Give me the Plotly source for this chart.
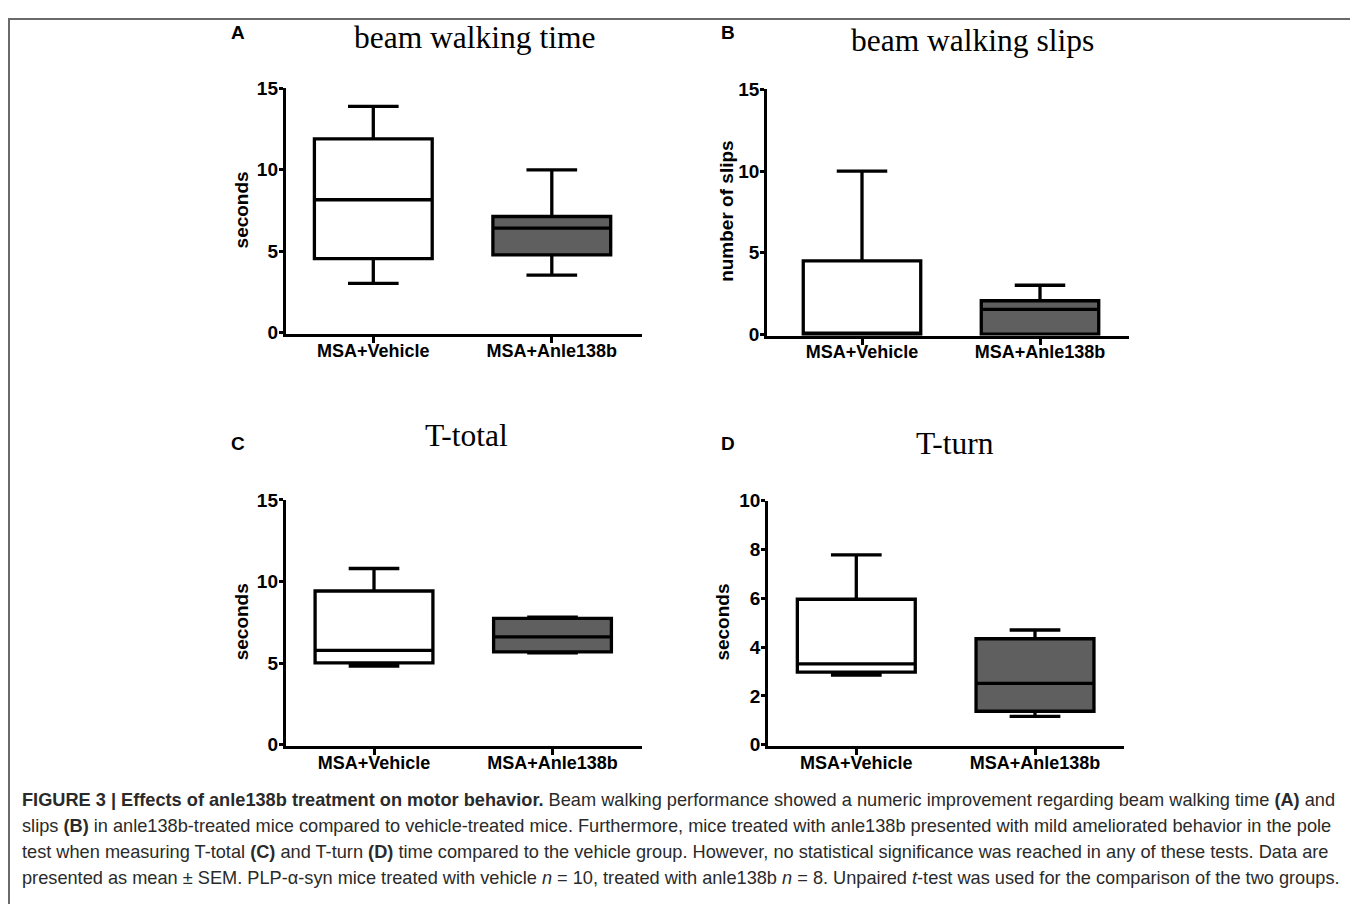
import plotly.graph_objects as go

# Page has an 8px body margin; the figure is sized to fit inside it.
PAGE_W, PAGE_H = 1358, 912
OFF = 8
W, H = PAGE_W - 2 * OFF, PAGE_H - 2 * OFF
# vertical mapping of the photographed page (measured): shot_y = V0 + VS * page_y
V0, VS = 10.9, 0.976

categories = ["MSA+Vehicle", "MSA+Anle138b"]
fills = ["#ffffff", "#5f5f5f"]

# Panel A: beam walking time (seconds)
A_low = [3.02, 3.53]
A_q1 = [4.54, 4.77]
A_med = [8.16, 6.41]
A_q3 = [11.9, 7.13]
A_high = [13.9, 10.0]

# Panel B: beam walking slips (number of slips)
B_low = [0.0, 0.0]
B_q1 = [0.0, 0.0]
B_med = [0.0, 1.52]
B_q3 = [4.5, 2.05]
B_high = [10.0, 3.0]

# Panel C: T-total (seconds)
C_low = [4.81, 5.63]
C_q1 = [5.02, 5.69]
C_med = [5.78, 6.61]
C_q3 = [9.42, 7.74]
C_high = [10.8, 7.82]

# Panel D: T-turn (seconds)
D_low = [2.85, 1.16]
D_q1 = [2.97, 1.37]
D_med = [3.31, 2.51]
D_q3 = [5.96, 4.34]
D_high = [7.78, 4.70]

A_ticks = [0, 5, 10, 15]
B_ticks = [0, 5, 10, 15]
C_ticks = [0, 5, 10, 15]
D_ticks = [0, 2, 4, 6, 8, 10]


def px(x):
    return (x - OFF) / W


def py(y):
    page_y = (y - V0) / VS
    return 1 - (page_y - OFF) / H


LW = 3.0
HALF = LW / 2

# target geometry: y-axis x, first-category centre, category spacing, right end,
# y of value 0, y of top value
panels = [
    ("", (A_low, A_q1, A_med, A_q3, A_high), 284.3, 373.3, 178.5, 641.7, 332.3, 89.0, 15, A_ticks),
    ("2", (B_low, B_q1, B_med, B_q3, B_high), 765.7, 862.0, 178.0, 1129.0, 334.0, 90.0, 15, B_ticks),
    ("3", (C_low, C_q1, C_med, C_q3, C_high), 284.3, 374.0, 178.5, 641.7, 743.3, 499.3, 15, C_ticks),
    ("4", (D_low, D_q1, D_med, D_q3, D_high), 766.7, 856.3, 178.7, 1124.0, 743.3, 500.0, 10, D_ticks),
]

fig = go.Figure()
tick_font = dict(family="Liberation Sans, Arial, sans-serif", size=19, color="#000000", weight="bold")
cat_font = dict(family="Liberation Sans, Arial, sans-serif", size=18, color="#000000", weight="bold")

layout = {}
for name, (lo, q1, med, q3, hi), ax_x, c0, sep, x_end, y0, ytop, top, ticks in panels:
    for i, cat in enumerate(categories):
        fig.add_trace(go.Box(
            x=[cat], lowerfence=[lo[i]], q1=[q1[i]], median=[med[i]], q3=[q3[i]], upperfence=[hi[i]],
            fillcolor=fills[i], line=dict(color="#000000", width=3.3),
            width=0.66, whiskerwidth=0.43, boxpoints=False, showlegend=False,
            xaxis="x" + name, yaxis="y" + name, hoverinfo="skip",
        ))
    ppu = (y0 - ytop) / top
    dom_left = ax_x + HALF
    dom_bottom = y0 + HALF
    xr = [(dom_left - c0) / sep, (x_end - c0) / sep]
    yr = [-(HALF / ppu), top]
    layout["xaxis" + name] = dict(
        domain=[px(dom_left), px(x_end)], anchor="y" + name, type="category",
        categoryorder="array", categoryarray=categories, range=xr,
        showline=True, linecolor="#000000", linewidth=LW, showgrid=False, zeroline=False,
        ticks="outside", ticklen=6, tickwidth=3, tickcolor="#000000", tickfont=cat_font,
        ticklabelstandoff=-8, fixedrange=True,
    )
    layout["yaxis" + name] = dict(
        domain=[py(dom_bottom), py(ytop)], anchor="x" + name, range=yr,
        tickvals=ticks, showline=True, linecolor="#000000", linewidth=LW,
        showgrid=False, zeroline=False, ticks="outside", ticklen=4, tickwidth=3,
        tickcolor="#000000", tickfont=tick_font, ticklabelstandoff=-3, fixedrange=True,
    )

annotations = []
letter_font = dict(family="Liberation Sans, Arial, sans-serif", size=19, color="#000000", weight="bold")
for txt, x, y in [("A", 238, 33), ("B", 728, 33), ("C", 238, 443), ("D", 728, 443)]:
    annotations.append(dict(text=txt, x=px(x), y=py(y), xref="paper", yref="paper",
                            xanchor="center", yanchor="middle", showarrow=False, font=letter_font))

title_font = dict(family="Liberation Serif, Times New Roman, serif", size=31.5, color="#000000")
for txt, x, y in [("beam walking time", 474, 38), ("beam walking slips", 972, 41),
                  ("T-total", 466, 435), ("T-turn", 955, 443)]:
    annotations.append(dict(text=txt, x=px(x), y=py(y), xref="paper", yref="paper",
                            xanchor="center", yanchor="middle", showarrow=False, font=title_font))

ytitle_font = dict(family="Liberation Sans, Arial, sans-serif", size=19, color="#000000", weight="bold")
for txt, x, y in [("seconds", 241, 210.6), ("number of slips", 727, 212),
                  ("seconds", 241, 621.3), ("seconds", 723, 621.6)]:
    annotations.append(dict(text=txt, x=px(x), y=py(y), xref="paper", yref="paper", textangle=-90,
                            xanchor="center", yanchor="middle", showarrow=False, font=ytitle_font))

caption_lines = [
    "<b>FIGURE 3 | Effects of anle138b treatment on motor behavior.</b> Beam walking performance showed a numeric improvement regarding beam walking time <b>(A)</b> and",
    "slips <b>(B)</b> in anle138b-treated mice compared to vehicle-treated mice. Furthermore, mice treated with anle138b presented with mild ameliorated behavior in the pole",
    "test when measuring T-total <b>(C)</b> and T-turn <b>(D)</b> time compared to the vehicle group. However, no statistical significance was reached in any of these tests. Data are",
    "presented as mean ± SEM. PLP-α-syn mice treated with vehicle <i>n</i> = 10, treated with anle138b <i>n</i> = 8. Unpaired <i>t</i>-test was used for the comparison of the two groups.",
]
cap_font = dict(family="Liberation Sans, Arial, sans-serif", size=18.2, color="#2a2a2a")
for i, line in enumerate(caption_lines):
    annotations.append(dict(text=line, x=px(20), y=py(798 + 26 * i), xref="paper", yref="paper",
                            xanchor="left", yanchor="middle", showarrow=False, font=cap_font, align="left"))

shapes = [dict(type="rect", xref="paper", yref="paper", x0=px(9), x1=px(1354), y0=-0.1, y1=1 - 1.0 / H,
               line=dict(color="#6a6a6a", width=2), fillcolor="rgba(0,0,0,0)", layer="below")]

fig.update_layout(
    width=W, height=H, margin=dict(l=0, r=0, t=0, b=0),
    paper_bgcolor="#ffffff", plot_bgcolor="rgba(0,0,0,0)",
    boxmode="overlay", annotations=annotations, shapes=shapes, showlegend=False,
    **layout,
)

fig.write_html("out.html")
